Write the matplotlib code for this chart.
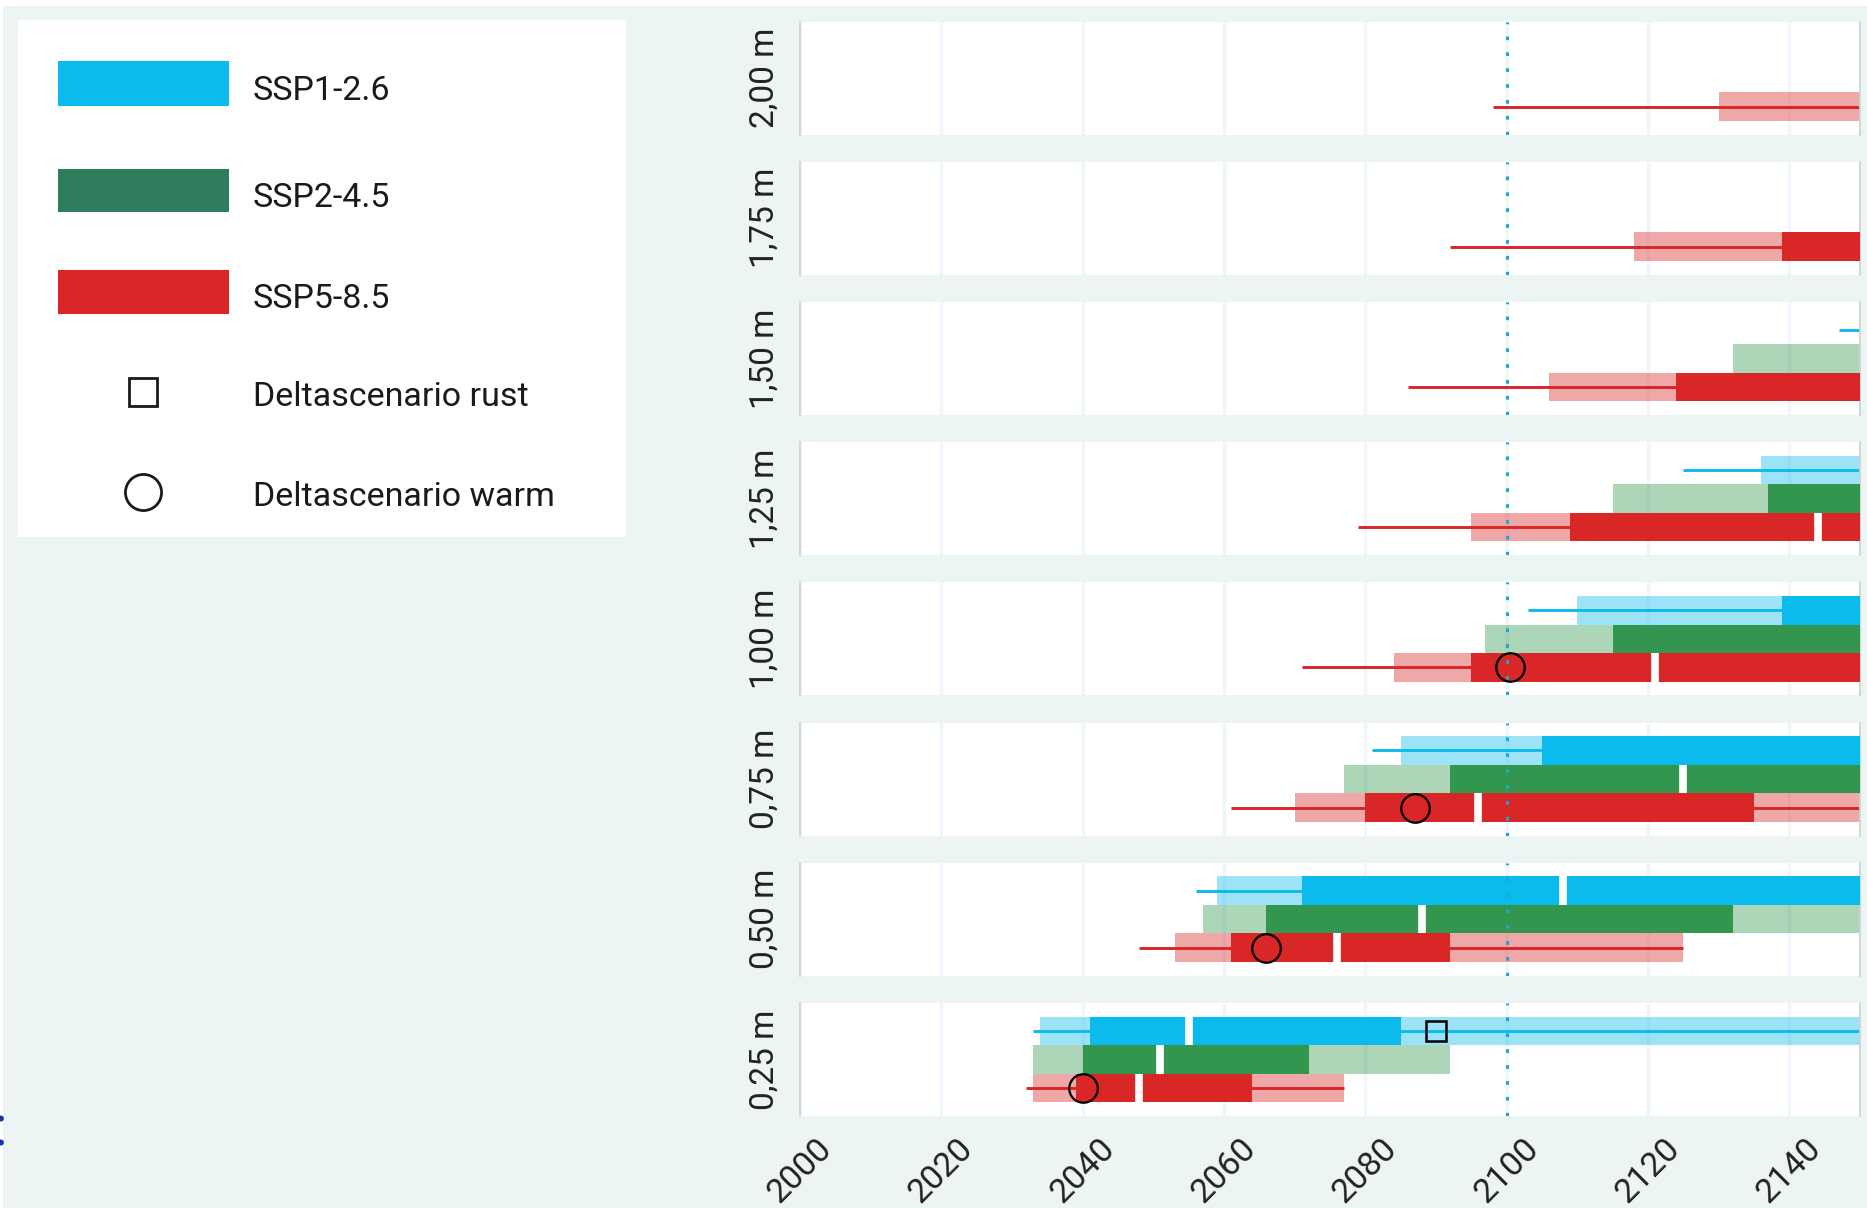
import matplotlib
matplotlib.use("Agg")
import matplotlib.pyplot as plt
import numpy as np
from matplotlib.patches import Rectangle

plt.rcParams['font.family'] = ['Roboto', 'DejaVu Sans']

# sea level rise levels, bottom panel first
levels = [0.25, 0.50, 0.75, 1.00, 1.25, 1.50, 1.75, 2.00]
level_labels = ["0,25 m", "0,50 m", "0,75 m", "1,00 m", "1,25 m", "1,50 m", "1,75 m", "2,00 m"]

nan = np.nan
END = 2160  # beyond the chart edge

# SSP1-2.6
blue_whisk_lo = [2033, 2056, 2081, 2103, 2125, 2147, nan, nan]
blue_whisk_hi = [END, END, END, END, END, END, nan, nan]
blue_light_lo = [2034, 2059, 2085, 2110, 2136, nan, nan, nan]
blue_light_hi = [END, END, END, END, END, nan, nan, nan]
blue_dark_lo = [2041, 2071, 2105, 2139, nan, nan, nan, nan]
blue_dark_hi = [2085, END, END, END, nan, nan, nan, nan]
blue_median = [2055, 2108, nan, nan, nan, nan, nan, nan]

# SSP2-4.5
green_whisk_lo = [nan] * 8
green_whisk_hi = [nan] * 8
green_light_lo = [2033, 2057, 2077, 2097, 2115, 2132, nan, nan]
green_light_hi = [2092, END, END, END, END, END, nan, nan]
green_dark_lo = [2040, 2066, 2092, 2115, 2137, nan, nan, nan]
green_dark_hi = [2072, 2132, END, END, END, nan, nan, nan]
green_median = [2051, 2088, 2125, nan, nan, nan, nan, nan]

# SSP5-8.5
red_whisk_lo = [2032, 2048, 2061, 2071, 2079, 2086, 2092, 2098]
red_whisk_hi = [2077, 2125, END, END, END, END, END, END]
red_light_lo = [2033, 2053, 2070, 2084, 2095, 2106, 2118, 2130]
red_light_hi = [2077, 2125, END, END, END, END, END, END]
red_dark_lo = [2039, 2061, 2080, 2095, 2109, 2124, 2139, nan]
red_dark_hi = [2064, 2092, 2135, END, END, END, END, nan]
red_median = [2048, 2076, 2096, 2121, 2144, nan, nan, nan]

# delta scenarios
rust_years = [2090]
rust_levels = [0.25]
warm_years = [2040, 2066, 2087, 2100.5]
warm_levels = [0.25, 0.50, 0.75, 1.00]

xticks = [2000, 2020, 2040, 2060, 2080, 2100, 2120, 2140]

BLUE = '#0bbbee'
GREEN = '#33964f'
GREEN_LEG = '#2e7d5c'
RED = '#d92626'
MINT = '#ecf5f3'
GRID = '#eff6fb'

scenarios = [
    ("SSP1-2.6", BLUE, 2, blue_whisk_lo, blue_whisk_hi, blue_light_lo, blue_light_hi,
     blue_dark_lo, blue_dark_hi, blue_median),
    ("SSP2-4.5", GREEN, 1, green_whisk_lo, green_whisk_hi, green_light_lo, green_light_hi,
     green_dark_lo, green_dark_hi, green_median),
    ("SSP5-8.5", RED, 0, red_whisk_lo, red_whisk_hi, red_light_lo, red_light_hi,
     red_dark_lo, red_dark_hi, red_median),
]

W, H = 1867, 1208
fig = plt.figure(figsize=(W / 100, H / 100), dpi=100)
fig.patch.set_facecolor('white')
fig.add_artist(Rectangle((3 / W, 0), 1, 1 - 6 / H, transform=fig.transFigure,
                         facecolor=MINT, edgecolor='none', zorder=-10))

left = 800 / W
width = 1060 / W
ph = 113 / H

for i in range(len(levels)):
    k = len(levels) - 1 - i  # index into data, top panel = last level
    top_px = 21.5 + i * 140.2
    ax = fig.add_axes([left, 1 - (top_px + 113) / H, width, ph])
    ax.set_facecolor('white')
    ax.set_xlim(2000, 2150)
    ax.set_ylim(-0.98, 2.98)
    ax.set_yticks([])
    ax.set_xticks(xticks)
    ax.tick_params(axis='x', length=0, pad=12, labelsize=24.5, labelcolor='#222222')
    ax.grid(axis='x', color=GRID, lw=2.4, zorder=0)
    ax.set_axisbelow(True)
    for s in ['top', 'bottom']:
        ax.spines[s].set_visible(False)
    for s in ['left', 'right']:
        ax.spines[s].set_color('#cfd4d4')
        ax.spines[s].set_linewidth(1.3)
    ax.set_ylabel(level_labels[k], fontsize=24, color='#222222', labelpad=14)

    for name, col, yy, wlo, whi, llo, lhi, dlo, dhi, med in scenarios:
        if not np.isnan(llo[k]):
            ax.barh(yy, lhi[k] - llo[k], left=llo[k], height=1.0, color=col,
                    alpha=0.4, lw=0, zorder=1)
        if not np.isnan(wlo[k]):
            ax.plot([wlo[k], whi[k]], [yy, yy], color=col, lw=2.1, zorder=2,
                    solid_capstyle='butt')
        if not np.isnan(dlo[k]):
            ax.barh(yy, dhi[k] - dlo[k], left=dlo[k], height=1.0, color=col,
                    lw=0, zorder=3)
        if not np.isnan(med[k]):
            ax.vlines(med[k], yy - 0.5, yy + 0.5, color='white', lw=5.5, zorder=4)

    for yr, lv in zip(rust_years, rust_levels):
        if lv == levels[k]:
            ax.plot(yr, 2, marker='s', ms=15, mfc='none', mec='black', mew=1.8, zorder=6)
    for yr, lv in zip(warm_years, warm_levels):
        if lv == levels[k]:
            ax.plot(yr, 0, marker='o', ms=20.5, mfc='none', mec='black', mew=1.6, zorder=6)

    ax.axvline(2100, color='#1fa3dc', lw=2.2, ls=(0, (1.2, 4.0)), zorder=5)

    if i < len(levels) - 1:
        ax.tick_params(axis='x', labelbottom=False)
    else:
        plt.setp(ax.get_xticklabels(), rotation=45)

# legend box
lax = fig.add_axes([18 / W, 1 - 537 / H, 608 / W, 517 / H])
lax.set_xlim(0, 608)
lax.set_ylim(517, 0)
lax.set_facecolor('white')
lax.set_xticks([])
lax.set_yticks([])
for s in lax.spines.values():
    s.set_visible(False)

legend_names = ["SSP1-2.6", "SSP2-4.5", "SSP5-8.5"]
legend_cols = [BLUE, GREEN_LEG, RED]
legend_rows = [(41, 86), (149, 192), (250, 294)]
for nm, col, (y0, y1) in zip(legend_names, legend_cols, legend_rows):
    lax.add_patch(Rectangle((40, y0), 171, y1 - y0, facecolor=col, edgecolor='none'))
    lax.text(235, (y0 + y1) / 2 + 4, nm, fontsize=24.5, va='center_baseline',
             ha='left', color='#1a1a1a')

lax.plot(125, 372, marker='s', ms=20, mfc='none', mec='#1a1a1a', mew=2)
lax.text(235, 374, "Deltascenario rust", fontsize=24.5, va='center_baseline',
         ha='left', color='#1a1a1a')
lax.plot(125, 472, marker='o', ms=26, mfc='none', mec='#1a1a1a', mew=2)
lax.text(235, 474, "Deltascenario warm", fontsize=24.5, va='center_baseline',
         ha='left', color='#1a1a1a')

# cut-off character at the left edge, as in the original
fig.text(0.0, 1 - 1146 / H, ":", fontsize=40, color='#1530a8', ha='center', va='baseline')

fig.savefig("out.png", dpi=100, facecolor=fig.get_facecolor())
